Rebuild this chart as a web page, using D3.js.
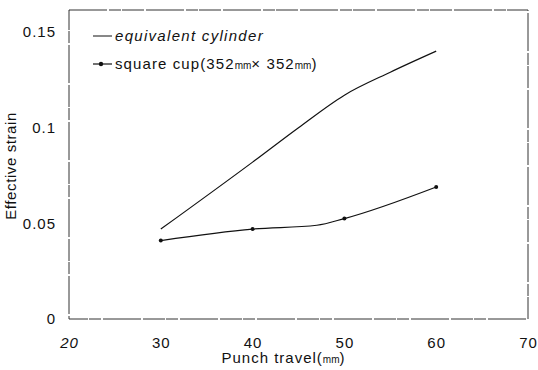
<!DOCTYPE html>
<html>
<head>
<meta charset="utf-8">
<script src="https://cdn.jsdelivr.net/npm/d3@7"></script>
<style>
  body { margin: 0; background: #fff; }
  text { font-family: "Liberation Sans", Arial, sans-serif; fill: #111; }
</style>
</head>
<body>
<div id="chart"></div>
<script>
// data
var travel = [30, 40, 45, 50, 55, 60];
var cylinder = [0.047, 0.082, 0.100, 0.117, 0.129, 0.140];
var cupTravel = [30, 40, 47, 50, 60];
var squareCup = [0.041, 0.047, 0.049, 0.0525, 0.069];
var cupMarkers = [30, 40, 50, 60];
var xTicks = [20, 30, 40, 50, 60, 70];
var yTicks = [0, 0.05, 0.1, 0.15];
var yTickLabels = ["0", "0.05", "0.1", "0.15"];

var W = 538, H = 370;
var margin = {top: 10, right: 10, bottom: 51, left: 69},
    width = W - margin.left - margin.right,
    height = H - margin.top - margin.bottom;

var svg = d3.select("#chart")
  .append("svg")
    .attr("width", W)
    .attr("height", H)
  .append("g")
    .attr("transform", "translate(" + margin.left + "," + margin.top + ")");

var x = d3.scaleLinear().domain([20, 70]).range([0, width]);
var y = d3.scaleLinear().domain([0, 0.1615]).range([height, 0]);

// frame (scanned, slightly broken look)
svg.append("rect")
  .attr("width", width)
  .attr("height", height)
  .attr("fill", "none")
  .attr("stroke", "#333")
  .attr("stroke-width", 1)
  .attr("stroke-dasharray", "38,2,12,1,22,2");

// axes, labels only
var xAxis = d3.axisBottom(x).tickValues(xTicks).tickSize(0).tickPadding(18).tickFormat(d3.format("d"));
svg.append("g")
  .attr("transform", "translate(0," + height + ")")
  .call(xAxis)
  .call(function(g) { g.select(".domain").remove(); })
  .selectAll("text")
    .style("font-size", "15px")
    .style("letter-spacing", "1px")
    .style("font-style", function(d) { return d === 20 ? "italic" : "normal"; });

var yAxis = d3.axisLeft(y).tickValues(yTicks).tickSize(0).tickPadding(13)
  .tickFormat(function(d, i) { return yTickLabels[i]; });
svg.append("g")
  .call(yAxis)
  .call(function(g) { g.select(".domain").remove(); })
  .selectAll("text")
    .style("font-size", "15px")
    .style("letter-spacing", "1px");

// lines
var line = d3.line()
  .curve(d3.curveMonotoneX)
  .x(function(d) { return x(d[0]); })
  .y(function(d) { return y(d[1]); });

svg.append("path")
  .datum(d3.zip(travel, cylinder))
  .attr("d", line)
  .attr("fill", "none")
  .attr("stroke", "#111")
  .attr("stroke-width", 1.2);

svg.append("path")
  .datum(d3.zip(cupTravel, squareCup))
  .attr("d", line)
  .attr("fill", "none")
  .attr("stroke", "#111")
  .attr("stroke-width", 1.2);

var cupPts = d3.zip(cupTravel, squareCup).filter(function(d) { return cupMarkers.indexOf(d[0]) >= 0; });
svg.selectAll(".dot")
  .data(cupPts)
  .enter()
  .append("circle")
    .attr("class", "dot")
    .attr("cx", function(d) { return x(d[0]); })
    .attr("cy", function(d) { return y(d[1]); })
    .attr("r", 2)
    .attr("fill", "#111");

// legend
var lg = svg.append("g").attr("transform", "translate(24,26)");
lg.append("line").attr("x1", 0).attr("x2", 19).attr("y1", 0).attr("y2", 0)
  .attr("stroke", "#111").attr("stroke-width", 1);
lg.append("text").attr("x", 22).attr("y", 5)
  .style("font-size", "15px").style("font-style", "italic").style("letter-spacing", "1.3px")
  .text("equivalent cylinder");

var lg2 = lg.append("g").attr("transform", "translate(0,28)");
lg2.append("line").attr("x1", 0).attr("x2", 19).attr("y1", 0).attr("y2", 0)
  .attr("stroke", "#111").attr("stroke-width", 1.2);
lg2.append("circle").attr("cx", 8).attr("cy", 0).attr("r", 2.2).attr("fill", "#111");
var t2 = lg2.append("text").attr("x", 22).attr("y", 5)
  .style("font-size", "15px").style("letter-spacing", "1.1px");
t2.append("tspan").text("square cup(352");
t2.append("tspan").style("font-size", "10px").style("letter-spacing", "0px").text("mm");
t2.append("tspan").text("× 352");
t2.append("tspan").style("font-size", "10px").style("letter-spacing", "0px").text("mm");
t2.append("tspan").text(")");

// axis titles
var xt = svg.append("text")
  .attr("x", x(45) - 15)
  .attr("y", height + 44)
  .attr("text-anchor", "middle")
  .style("font-size", "15px")
  .style("letter-spacing", "1px");
xt.append("tspan").text("Punch travel(");
xt.append("tspan").style("font-size", "10px").style("letter-spacing", "0px").text("mm");
xt.append("tspan").text(")");

svg.append("text")
  .attr("transform", "translate(" + (-53) + "," + (y(0.08)) + ") rotate(-90)")
  .attr("text-anchor", "middle")
  .style("font-size", "15px")
  .style("letter-spacing", "0.6px")
  .text("Effective strain");
</script>
</body>
</html>
